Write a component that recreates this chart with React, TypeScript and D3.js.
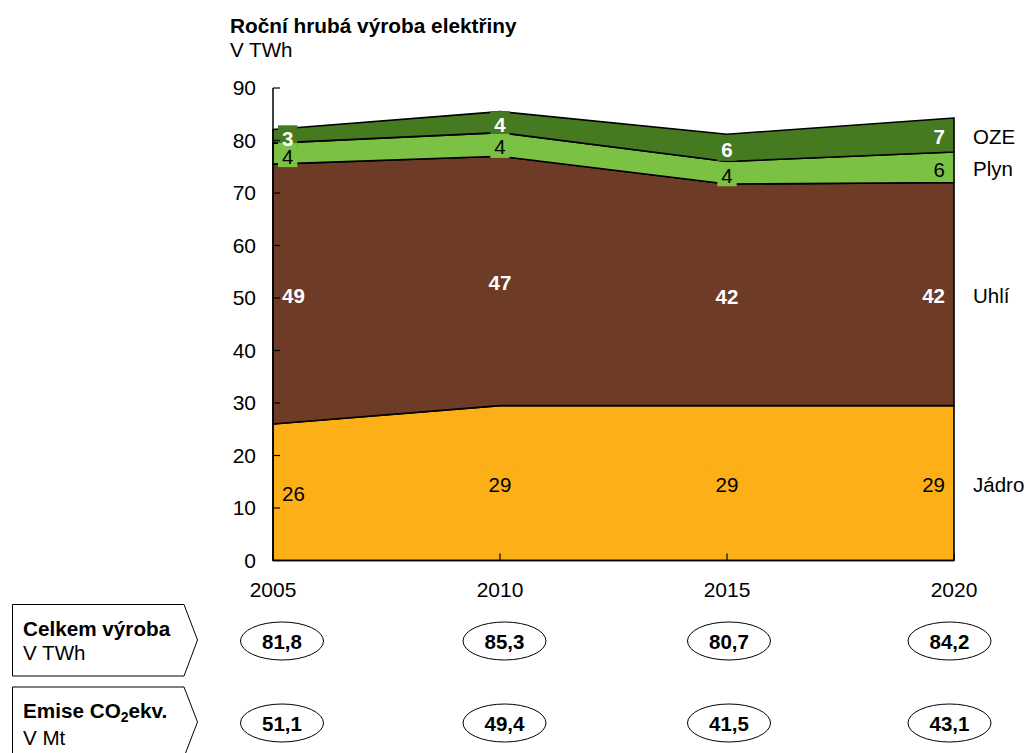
import React from 'react';
import * as d3 from 'd3';

const years = [2005, 2010, 2015, 2020];
const jadro = [26.0, 29.5, 29.5, 29.5];
const uhli = [49.5, 47.5, 42.2, 42.5];
const plyn = [4.0, 4.5, 4.3, 5.8];
const oze = [2.6, 4.0, 5.2, 6.5];
const jadroLabels = ['26', '29', '29', '29'];
const uhliLabels = ['49', '47', '42', '42'];
const plynLabels = ['4', '4', '4', '6'];
const ozeLabels = ['3', '4', '6', '7'];
const seriesNames = ['Jádro', 'Uhlí', 'Plyn', 'OZE'];
const totals = ['81,8', '85,3', '80,7', '84,2'];
const emissions = ['51,1', '49,4', '41,5', '43,1'];
const yTicks = [0, 10, 20, 30, 40, 50, 60, 70, 80, 90];

const keys = ['jadro', 'uhli', 'plyn', 'oze'];
const colors: Record<string, string> = {
  jadro: '#FDAF18',
  uhli: '#6D3B26',
  plyn: '#7BC144',
  oze: '#457A20',
};
const labelStyle: Record<string, { color: string; weight: string }> = {
  jadro: { color: '#000', weight: 'normal' },
  uhli: { color: '#fff', weight: 'bold' },
  plyn: { color: '#000', weight: 'normal' },
  oze: { color: '#fff', weight: 'bold' },
};
const labelTexts: Record<string, string[]> = {
  jadro: jadroLabels,
  uhli: uhliLabels,
  plyn: plynLabels,
  oze: ozeLabels,
};

const FONT = '"Liberation Sans", Arial, sans-serif';

export default function App() {
  const table = years.map((yr, i) => ({
    year: yr,
    jadro: jadro[i],
    uhli: uhli[i],
    plyn: plyn[i],
    oze: oze[i],
  }));
  const stack = d3.stack<any>().keys(keys);
  const series = stack(table);

  const x = d3.scaleLinear().domain([2005, 2020]).range([273, 954]);
  const y = d3.scaleLinear().domain([0, 90]).range([560.5, 88]);

  const area = d3
    .area<any>()
    .x((d) => x(d.data.year))
    .y0((d) => y(d[0]))
    .y1((d) => y(d[1]));

  const fs = 20.5;
  const labels: any[] = [];
  series.forEach((s) => {
    s.forEach((d, i) => {
      let cy = (y(d[0]) + y(d[1])) / 2 + 1.5;
      if (s.key === 'plyn') cy += 1;
      if (s.key === 'oze') cy += 0.5;
      let anchor = 'middle';
      let lx = x(d.data.year);
      if (i === 0) {
        anchor = 'start';
        lx = x(d.data.year) + 9;
      } else if (i === years.length - 1) {
        anchor = 'end';
        lx = x(d.data.year) - 9;
      }
      const txt = labelTexts[s.key][i];
      const tw = txt.length * 0.556 * fs;
      let bx = lx - tw / 2 - 4;
      if (anchor === 'start') bx = lx - 4;
      if (anchor === 'end') bx = lx - tw - 4;
      labels.push({ key: s.key, txt, lx, cy, anchor, bx, bw: tw + 8 });
    });
  });
  const boxOrder = ['jadro', 'uhli', 'oze', 'plyn'];

  const ellipseOffsets = [9, 4.5, 2, -4.5];

  return (
    <svg width={1030} height={753} style={{ display: 'block', position: 'absolute', left: 0, top: 0 }} fontFamily={FONT}>
      <rect x={0} y={0} width={1030} height={753} fill="#fff" />
      <text x={230} y={33} fontSize={20.8} fontWeight="bold">Roční hrubá výroba elektřiny</text>
      <text x={230} y={57} fontSize={20.6}>V TWh</text>

      {series.map((s) => (
        <path key={s.key} d={area(s as any) || ''} fill={colors[s.key]} stroke="#000" strokeWidth={1.6} strokeLinejoin="round" />
      ))}

      {boxOrder.map((k) =>
        labels
          .filter((l) => l.key === k)
          .map((l, i) => (
            <rect key={k + i} x={l.bx} y={l.cy - 1 - 12} width={l.bw} height={24} fill={colors[k]} />
          ))
      )}
      {labels.map((l, i) => (
        <text
          key={'t' + i}
          x={l.lx}
          y={l.cy + 0.36 * fs}
          fontSize={fs}
          textAnchor={l.anchor}
          fill={labelStyle[l.key].color}
          fontWeight={labelStyle[l.key].weight}
        >
          {l.txt}
        </text>
      ))}

      {/* axes */}
      <line x1={273} x2={273} y1={y(90)} y2={y(0)} stroke="#000" strokeWidth={1.5} />
      <line x1={273} x2={954} y1={y(0)} y2={y(0)} stroke="#000" strokeWidth={1.5} />
      {yTicks.map((t) => (
        <g key={t}>
          <line x1={273} x2={280} y1={y(t)} y2={y(t)} stroke="#000" strokeWidth={1.2} />
          <text x={256} y={y(t) + 7.3} fontSize={21} textAnchor="end">{t}</text>
        </g>
      ))}
      {years.map((yr) => (
        <g key={yr}>
          <line x1={x(yr)} x2={x(yr)} y1={y(0)} y2={y(0) - 7} stroke="#000" strokeWidth={1.2} />
          <text x={x(yr)} y={597} fontSize={21} textAnchor="middle">{yr}</text>
        </g>
      ))}

      {/* series names */}
      {series.map((s) => {
        const d = s[s.length - 1];
        const cy = (y(d[0]) + y(d[1])) / 2 + 1.5;
        const idx = keys.indexOf(s.key);
        return (
          <text key={'n' + s.key} x={973} y={cy + 0.36 * fs} fontSize={fs}>
            {seriesNames[idx]}
          </text>
        );
      })}

      {/* bottom rows */}
      <path d="M12.5,604.5 H184 L197.5,640 L184,676 H12.5 Z" fill="#fff" stroke="#000" strokeWidth={1} />
      <text x={23} y={636} fontSize={20.7} fontWeight="bold">Celkem výroba</text>
      <text x={23} y={660} fontSize={20.6}>V TWh</text>
      <path d="M12.5,687 H184 L197.5,722 L184,757 H12.5 Z" fill="#fff" stroke="#000" strokeWidth={1} />
      <text x={23} y={718} fontSize={20.7} fontWeight="bold">
        Emise CO<tspan fontSize={14} dy={4}>2</tspan><tspan dy={-4}>ekv.</tspan>
      </text>
      <text x={23} y={745} fontSize={20.6}>V Mt</text>

      {years.map((yr, i) => {
        const cx = x(yr) + ellipseOffsets[i];
        return (
          <g key={'e' + yr}>
            <ellipse cx={cx} cy={641} rx={41.5} ry={19} fill="#fff" stroke="#000" strokeWidth={1} />
            <text x={cx} y={648.5} fontSize={20.5} fontWeight="bold" textAnchor="middle">{totals[i]}</text>
            <ellipse cx={cx} cy={723} rx={41.5} ry={19} fill="#fff" stroke="#000" strokeWidth={1} />
            <text x={cx} y={730.5} fontSize={20.5} fontWeight="bold" textAnchor="middle">{emissions[i]}</text>
          </g>
        );
      })}
    </svg>
  );
}
